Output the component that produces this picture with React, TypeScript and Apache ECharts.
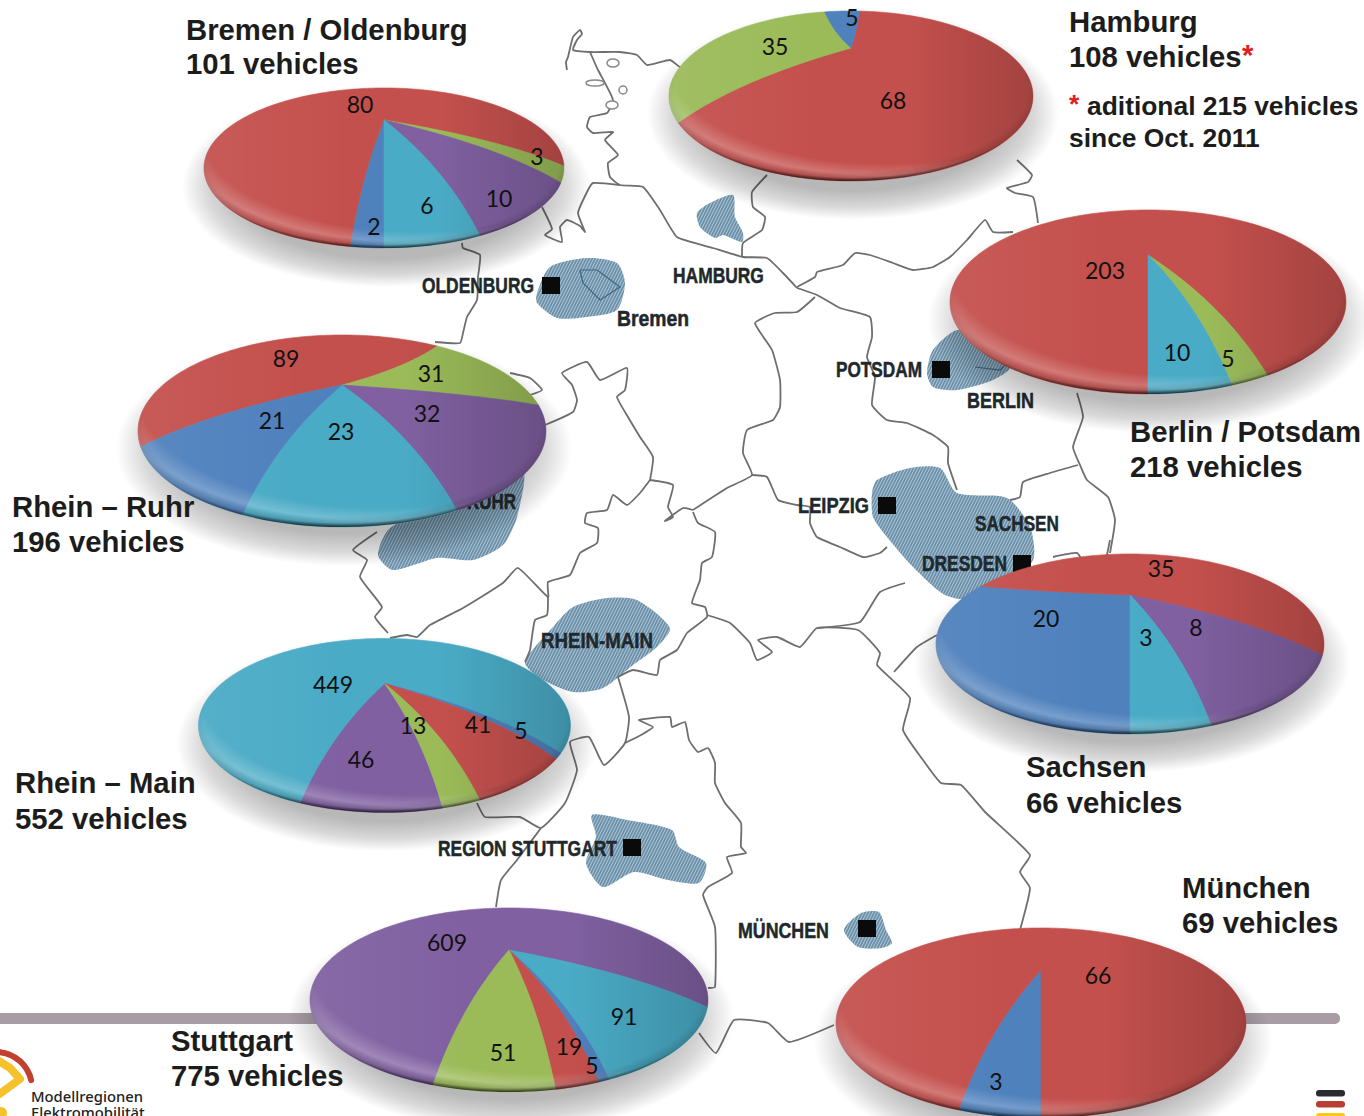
import React, { useEffect, useRef } from "react";
import * as echarts from "echarts";

// Vehicles per model region, slices listed clockwise from each pie's start angle.
const bremenValues = [2, 80, 3, 10, 6];
const bremenSlices = ["blue", "red", "green", "purple", "teal"];
const hamburgValues = [68, 35, 5];
const hamburgSlices = ["red", "green", "blue"];
const berlinValues = [203, 5, 10];
const berlinSlices = ["red", "green", "teal"];
const ruhrValues = [89, 31, 32, 23, 21];
const ruhrSlices = ["red", "green", "purple", "teal", "blue"];
const sachsenValues = [20, 35, 8, 3];
const sachsenSlices = ["blue", "red", "purple", "teal"];
const mainValues = [46, 449, 5, 41, 13];
const mainSlices = ["purple", "teal", "blue", "red", "green"];
const stuttgartValues = [609, 91, 5, 19, 51];
const stuttgartSlices = ["purple", "teal", "blue", "red", "green"];
const muenchenValues = [3, 66];
const muenchenSlices = ["blue", "red"];

const sliceColors: Record<string, string> = {
  red: "#C4504D",
  green: "#9BBB59",
  blue: "#4F81BD",
  purple: "#8060A1",
  teal: "#4AABC6",
};

// Ellipse, tilt and start angle of each pie.
const pieLayouts = [
  { values: bremenValues, slices: bremenSlices, cx: 384, cy: 168, rx: 180, ry: 80, apexDy: -48, start: 180, labels: [[374, 227], [360, 105], [537, 157], [499, 199], [427, 206]] },
  { values: hamburgValues, slices: hamburgSlices, cx: 851, cy: 96, rx: 182, ry: 85, apexDy: -48, start: 4, labels: [[893, 101], [775, 47], [852, 18]] },
  { values: berlinValues, slices: berlinSlices, cx: 1148, cy: 302, rx: 198, ry: 92, apexDy: -47, start: 180, labels: [[1105, 271], [1228, 359], [1177, 353]] },
  { values: ruhrValues, slices: ruhrSlices, cx: 342, cy: 431, rx: 204, ry: 96, apexDy: -46, start: 238, labels: [[286, 359], [431, 374], [427, 414], [341, 432], [272, 421]] },
  { values: sachsenValues, slices: sachsenSlices, cx: 1130, cy: 644, rx: 194, ry: 90, apexDy: -49, start: 180, labels: [[1046, 619], [1161, 569], [1196, 628], [1146, 638]] },
  { values: mainValues, slices: mainSlices, cx: 384.5, cy: 725.5, rx: 186, ry: 87, apexDy: -42, start: 168, labels: [[361, 760], [333, 685], [521, 731], [478, 725], [413, 726]] },
  { values: stuttgartValues, slices: stuttgartSlices, cx: 509, cy: 1000, rx: 199, ry: 92, apexDy: -50, start: 194.8, labels: [[447, 943], [624, 1017], [592, 1066], [569, 1047], [503, 1053]] },
  { values: muenchenValues, slices: muenchenSlices, cx: 1041, cy: 1023, rx: 205, ry: 95, apexDy: -53, start: 180, labels: [[996, 1082], [1098, 976]] },
];

// Headings beside the pies.
const titleLines = [
  { text: "Bremen / Oldenburg", x: 186, y: 29 },
  { text: "101 vehicles", x: 186, y: 63 },
  { text: "Hamburg", x: 1069, y: 21 },
  { text: "108 vehicles", x: 1069, y: 56 },
  { text: "*", x: 1242, y: 54, color: "#E02020" },
  { text: "*", x: 1069, y: 104, size: 26.4, color: "#E02020" },
  { text: "aditional 215 vehicles", x: 1087, y: 106, size: 26.4 },
  { text: "since Oct. 2011", x: 1069, y: 138, size: 26.4 },
  { text: "Berlin / Potsdam", x: 1130, y: 431 },
  { text: "218 vehicles", x: 1130, y: 466 },
  { text: "Rhein – Ruhr", x: 12, y: 506 },
  { text: "196 vehicles", x: 12, y: 541 },
  { text: "Sachsen", x: 1026, y: 766 },
  { text: "66 vehicles", x: 1026, y: 802 },
  { text: "Rhein – Main", x: 15, y: 782 },
  { text: "552 vehicles", x: 15, y: 818 },
  { text: "München", x: 1182, y: 887 },
  { text: "69 vehicles", x: 1182, y: 922 },
  { text: "Stuttgart", x: 171, y: 1040 },
  { text: "775 vehicles", x: 171, y: 1075 },
];

// City and region names on the map: [text, left, centre y, width].
const mapLabels: [string, number, number, number][] = [
  ["OLDENBURG", 422, 285, 112],
  ["HAMBURG", 673, 275, 91],
  ["Bremen", 617, 318, 72],
  ["POTSDAM", 836, 369, 86],
  ["BERLIN", 967, 400, 67],
  ["LEIPZIG", 798, 505, 71],
  ["SACHSEN", 975, 523, 84],
  ["DRESDEN", 922, 563, 85],
  ["RUHR", 467, 501, 49],
  ["RHEIN-MAIN", 541, 640, 112],
  ["REGION STUTTGART", 438, 848, 179],
  ["MÜNCHEN", 738, 930, 91],
];

const citySquares = [
  [542, 277], [932, 361], [878, 497], [1013, 555], [623, 839], [858, 920],
];

// State borders and coastline.
const borderLines: number[][][] = [
  [[567, 70], [566, 62], [568, 57], [573, 37], [580, 30], [582, 34], [577, 40], [573, 50], [590, 52], [620, 52], [637, 55], [647, 65], [670, 60], [680, 67], [690, 66]],
  [[590, 52], [598, 70], [605, 83], [613, 100], [607, 113], [590, 117], [587, 127], [593, 133], [613, 132], [605, 140], [618, 155], [608, 163], [610, 177], [620, 185], [643, 187], [660, 210], [677, 237], [713, 248], [743, 257], [767, 258], [783, 273], [797, 288]],
  [[620, 185], [593, 183], [587, 192], [578, 213], [585, 232], [580, 226], [567, 220], [560, 227], [562, 242], [545, 235], [552, 229], [542, 207]],
  [[462, 243], [463, 248], [480, 255], [478, 277], [477, 300], [467, 317], [463, 333], [460, 343], [435, 342]],
  [[767, 175], [752, 192], [753, 207], [765, 217], [762, 230], [743, 243], [742, 257]],
  [[797, 288], [817, 295], [840, 308], [870, 317], [872, 337], [867, 357], [875, 377], [872, 405], [887, 420], [907, 423], [933, 435], [948, 447], [948, 463], [957, 490]],
  [[797, 287], [815, 277], [817, 272], [843, 265], [855, 253], [870, 255], [893, 263], [913, 270], [933, 267], [950, 257], [967, 240], [985, 220], [993, 232], [1013, 232]],
  [[1017, 160], [1032, 175], [1028, 182], [1007, 188], [1015, 193], [1033, 197], [1038, 223]],
  [[1077, 393], [1083, 417], [1073, 447], [1080, 465], [1087, 480], [1108, 497], [1115, 520], [1110, 553]],
  [[1078, 465], [1050, 473], [1023, 482], [1020, 497], [1010, 500]],
  [[815, 297], [797, 312], [775, 313], [755, 323], [772, 350], [780, 380], [780, 407], [773, 420], [747, 430], [743, 453], [752, 475], [727, 488], [693, 510]],
  [[752, 475], [767, 477], [778, 500], [797, 505], [810, 507], [810, 523], [817, 537], [840, 547], [863, 557], [880, 553], [887, 547]],
  [[545, 425], [573, 412], [577, 400], [572, 385], [562, 373], [587, 362], [600, 380], [627, 368], [625, 390], [617, 397], [628, 417], [640, 437], [653, 457], [650, 480]],
  [[510, 373], [530, 378], [542, 390], [530, 395]],
  [[650, 480], [673, 485], [668, 507], [673, 517], [665, 521], [683, 508], [693, 510]],
  [[650, 480], [640, 493], [627, 505], [613, 495], [607, 510], [587, 513], [585, 523], [598, 528], [597, 543], [580, 553], [570, 575], [548, 582], [548, 597], [518, 568], [503, 583], [463, 608], [430, 625], [417, 637], [407, 635], [390, 638]],
  [[548, 597], [547, 615], [535, 620], [530, 650], [525, 662]],
  [[377, 532], [353, 550], [367, 560], [360, 577], [382, 607], [375, 617], [388, 633]],
  [[693, 512], [698, 523], [715, 532], [712, 557], [702, 563], [700, 580], [692, 603], [705, 607], [707, 617], [687, 633], [677, 650], [660, 660], [657, 675], [633, 670], [618, 677]],
  [[707, 615], [730, 623], [750, 643], [757, 660], [772, 652], [758, 640], [777, 637], [800, 647], [817, 628], [858, 630], [880, 653], [877, 665], [910, 698], [903, 730], [923, 760], [941, 783], [961, 785], [985, 812], [1030, 855], [1020, 872], [1030, 888], [1020, 930]],
  [[817, 628], [860, 622], [880, 592], [905, 583]],
  [[894, 672], [917, 647], [937, 635]],
  [[618, 677], [629, 717], [625, 743], [604, 765], [589, 737], [570, 742], [577, 770], [565, 803], [541, 828], [520, 817], [485, 817], [477, 803]],
  [[541, 828], [517, 860], [501, 880], [496, 907]],
  [[625, 743], [641, 735], [653, 727], [639, 720], [670, 717], [672, 727], [685, 722], [689, 740], [698, 752], [708, 748], [715, 763], [715, 783], [725, 803], [741, 823], [741, 847], [746, 853], [727, 857], [732, 873], [708, 887], [703, 895], [715, 927], [715, 987], [708, 988]],
  [[699, 1033], [716, 1053], [734, 1020], [768, 1023], [789, 1042], [834, 1025]],
  [[1053, 557], [1077, 553], [1083, 562]],
  [[1110, 540], [1107, 555]],
];

// Hatched model regions.
const regionAreas: number[][][] = [
  [[697, 213], [710, 203], [733, 195], [735, 217], [743, 233], [742, 242], [723, 235], [715, 238], [700, 227]],
  [[537, 293], [550, 267], [587, 258], [617, 263], [625, 283], [617, 310], [587, 317], [557, 318], [537, 303]],
  [[927, 373], [933, 350], [957, 330], [977, 340], [1010, 367], [993, 380], [957, 390], [933, 387]],
  [[872, 493], [877, 480], [910, 468], [940, 468], [957, 493], [1007, 498], [1030, 527], [1033, 560], [1000, 590], [975, 600], [945, 595], [913, 567], [887, 537], [873, 517]],
  [[378, 555], [390, 528], [440, 505], [522, 470], [517, 517], [503, 545], [473, 560], [437, 558], [393, 570]],
  [[525, 662], [553, 627], [573, 607], [607, 598], [637, 600], [670, 628], [657, 647], [633, 665], [603, 688], [573, 692], [540, 678]],
  [[592, 815], [627, 820], [672, 830], [679, 847], [706, 863], [699, 883], [668, 880], [634, 872], [603, 887], [586, 863], [596, 837]],
  [[844, 930], [861, 913], [879, 912], [886, 930], [892, 943], [882, 948], [858, 947]],
];

const regionOutlines: number[][][] = [
  [[580, 270], [597, 270], [620, 287], [600, 300], [583, 283], [580, 270]],
  [[975, 367], [1000, 370], [1007, 363]],
];

const islandRings = [
  [613, 63, 6, 4], [623, 90, 4, 4], [595, 83, 9, 3], [612, 105, 6, 4],
];

const RIM_TILT = -0.4;

// Projects a compass angle on the flat disc onto the tilted ellipse.
function rimPoint(p: (typeof pieLayouts)[number], deg: number): number[] {
  const a = (deg * Math.PI) / 180;
  const x = Math.sin(a);
  const y = -Math.cos(a);
  const d = 1 + RIM_TILT * y;
  const px = (x * Math.sqrt(1 - RIM_TILT * RIM_TILT)) / d;
  const py = (y + RIM_TILT) / d;
  return [p.cx + p.rx * px, p.cy + p.ry * py];
}

// The bevel bends each radius: it runs sideways first and steepens towards the rim.
function radiusCurve(apex: number[], rim: number[]): number[][] {
  const c = [apex[0] + 0.65 * (rim[0] - apex[0]), apex[1] + 0.42 * (rim[1] - apex[1])];
  const pts: number[][] = [];
  for (let i = 0; i <= 16; i++) {
    const t = i / 16;
    const u = 1 - t;
    pts.push([
      u * u * apex[0] + 2 * u * t * c[0] + t * t * rim[0],
      u * u * apex[1] + 2 * u * t * c[1] + t * t * rim[1],
    ]);
  }
  return pts;
}

function wedgePoints(p: (typeof pieLayouts)[number], from: number, to: number): number[][] {
  const apex = [p.cx, p.cy + p.apexDy];
  const pts = radiusCurve(apex, rimPoint(p, from));
  const steps = Math.max(2, Math.ceil((to - from) / 1.5));
  for (let i = 1; i < steps; i++) pts.push(rimPoint(p, from + ((to - from) * i) / steps));
  return pts.concat(radiusCurve(apex, rimPoint(p, to)).reverse());
}

function pieSeries(p: (typeof pieLayouts)[number]) {
  const total = p.values.reduce((a, b) => a + b, 0);
  const ellipse = { cx: p.cx, cy: p.cy, rx: p.rx, ry: p.ry };
  return {
    type: "custom",
    coordinateSystem: "none",
    silent: true,
    z: 3,
    data: p.values,
    renderItem: (params: any, api: any) => {
      const i = params.dataIndex;
      const before = p.values.slice(0, i).reduce((a, b) => a + b, 0);
      const from = p.start + (before / total) * 360;
      const to = from + (api.value(0) / total) * 360;
      const color = sliceColors[p.slices[i]];
      const children: any[] = [];
      if (i === 0) {
        // Soft cast shadow below the disc.
        children.push({
          type: "ellipse",
          shape: { cx: p.cx + 2, cy: p.cy + 18, rx: p.rx + 24, ry: p.ry + 21 },
          style: {
            fill: new echarts.graphic.RadialGradient(0.5, 0.5, 0.5, [
              { offset: 0, color: "rgba(0,0,0,0.28)" },
              { offset: 0.72, color: "rgba(0,0,0,0.28)" },
              { offset: 0.88, color: "rgba(0,0,0,0.15)" },
              { offset: 1, color: "rgba(0,0,0,0)" },
            ]),
          },
        });
      }
      children.push({
        type: "polygon",
        shape: { points: wedgePoints(p, from, to) },
        style: { fill: color, stroke: color, lineWidth: 0.6 },
      });
      if (i === p.values.length - 1) {
        children.push(
          {
            type: "ellipse",
            shape: ellipse,
            style: {
              fill: new echarts.graphic.LinearGradient(0, 0, 1, 0, [
                { offset: 0, color: "rgba(255,255,255,0.06)" },
                { offset: 0.4, color: "rgba(255,255,255,0)" },
                { offset: 0.65, color: "rgba(0,0,0,0)" },
                { offset: 1, color: "rgba(0,0,0,0.17)" },
              ]),
            },
          },
          {
            type: "ellipse",
            shape: ellipse,
            style: {
              fill: new echarts.graphic.RadialGradient(0.6, 0.3, 0.75, [
                { offset: 0, color: "rgba(255,255,255,0)" },
                { offset: 0.8, color: "rgba(255,255,255,0)" },
                { offset: 0.89, color: "rgba(255,255,255,0.22)" },
                { offset: 0.94, color: "rgba(255,255,255,0.04)" },
                { offset: 0.97, color: "rgba(255,255,255,0)" },
                { offset: 1, color: "rgba(255,255,255,0)" },
              ]),
            },
          },
          {
            type: "ellipse",
            shape: ellipse,
            style: {
              fill: new echarts.graphic.RadialGradient(0.5, 0.46, 0.54, [
                { offset: 0, color: "rgba(0,0,0,0)" },
                { offset: 0.9, color: "rgba(0,0,0,0)" },
                { offset: 0.96, color: "rgba(0,0,0,0.12)" },
                { offset: 1, color: "rgba(0,0,0,0.72)" },
              ]),
            },
          }
        );
      }
      return { type: "group", children };
    },
  };
}

function hatchTile(): HTMLCanvasElement {
  const c = document.createElement("canvas");
  c.width = 3;
  c.height = 6;
  const g = c.getContext("2d")!;
  g.fillStyle = "#6b8fa8";
  g.fillRect(0, 0, 3, 6);
  g.strokeStyle = "#b2cad8";
  g.lineWidth = 1;
  for (const dx of [-3, 0, 3]) {
    g.beginPath();
    g.moveTo(dx, 6);
    g.lineTo(dx + 3, 0);
    g.stroke();
  }
  return c;
}

function measure(text: string, font: string): number {
  const g = document.createElement("canvas").getContext("2d")!;
  g.font = font;
  return g.measureText(text).width;
}

function buildOption() {
  const tile = hatchTile();
  const labelFont = 'bold 22px "Liberation Sans"';
  const elements: any[] = [];

  // The divider runs behind the pies and stops where the map begins.
  [
    { x: -10, width: 340 },
    { x: 1200, width: 140 },
  ].forEach(({ x, width }) =>
    elements.push({
      type: "rect",
      shape: { x, y: 1013, width, height: 11, r: 5 },
      style: { fill: "#A89DA5" },
    })
  );

  regionAreas.forEach((points) =>
    elements.push({
      type: "polygon",
      shape: { points, smooth: 0.25 },
      style: { fill: { image: tile, repeat: "repeat" } },
    })
  );
  borderLines.forEach((points) =>
    elements.push({
      type: "polyline",
      shape: { points, smooth: 0.15 },
      style: { fill: "none", stroke: "#6e6e6e", lineWidth: 1.8, lineJoin: "round" },
    })
  );
  regionOutlines.forEach((points) =>
    elements.push({
      type: "polyline",
      shape: { points },
      style: { fill: "none", stroke: "#3d6783", lineWidth: 1.2 },
    })
  );
  islandRings.forEach(([cx, cy, rx, ry]) =>
    elements.push({
      type: "ellipse",
      shape: { cx, cy, rx, ry },
      style: { fill: "#fff", stroke: "#888", lineWidth: 1.5 },
    })
  );
  citySquares.forEach(([x, y]) =>
    elements.push({
      type: "rect",
      shape: { x, y, width: 18, height: 17 },
      style: { fill: "#0a0a0a" },
    })
  );
  mapLabels.forEach(([text, x, y, width]) =>
    elements.push({
      type: "text",
      x,
      y,
      scaleX: width / measure(text, labelFont),
      style: {
        text,
        x: 0,
        y: 0,
        font: labelFont,
        fill: "#20282c",
        stroke: "#20282c",
        lineWidth: 0.5,
        verticalAlign: "middle",
      },
    })
  );

  // Programme mark, bottom left.
  elements.push(
    {
      type: "arc",
      shape: { cx: -4, cy: 1088, r: 36, startAngle: -1.45, endAngle: -0.22 },
      style: { fill: "none", stroke: "#C2402F", lineWidth: 6, lineCap: "round" },
    },
    {
      type: "polyline",
      shape: { points: [[-6, 1058], [10, 1068], [20, 1079], [-6, 1098]] },
      style: { fill: "none", stroke: "#F6C22B", lineWidth: 8, lineCap: "round", lineJoin: "round" },
    },
    {
      type: "circle",
      shape: { cx: 1, cy: 1113, r: 6 },
      style: { fill: "#F6C22B" },
    },
    {
      type: "text",
      x: 31,
      y: 1096,
      style: { text: "Modellregionen", x: 0, y: 0, font: '500 14.8px "Noto Sans"', fill: "#222", verticalAlign: "middle" },
    },
    {
      type: "text",
      x: 31,
      y: 1112,
      style: { text: "Elektromobilität", x: 0, y: 0, font: '500 14.8px "Noto Sans"', fill: "#222", verticalAlign: "middle" },
    }
  );

  // Stripes in the national colours, bottom right.
  [
    [1090, "#2c2c2e"],
    [1101, "#B73F35"],
    [1113, "#FFC90E"],
  ].forEach(([y, fill]) =>
    elements.push({
      type: "rect",
      shape: { x: 1316, y: y as number, width: 29, height: 6.5, r: 3 },
      style: { fill: fill as string },
    })
  );

  const sliceLabels = pieLayouts.flatMap((p) =>
    p.values.map((v, i) => ({ text: String(v), x: p.labels[i][0], y: p.labels[i][1] - 1 }))
  );

  return {
    animation: false,
    backgroundColor: "#ffffff",
    graphic: { elements },
    series: [
      ...pieLayouts.map(pieSeries),
      {
        type: "custom",
        coordinateSystem: "none",
        silent: true,
        z: 5,
        data: sliceLabels.map((l) => l.text),
        renderItem: (params: any) => {
          const l = sliceLabels[params.dataIndex];
          return {
            type: "text",
            x: l.x,
            y: l.y,
            style: {
              text: l.text,
              x: 0,
              y: 0,
              font: "23px Lato",
              fill: "#111",
              align: "center",
              verticalAlign: "middle",
            },
          };
        },
      },
      {
        type: "custom",
        coordinateSystem: "none",
        silent: true,
        z: 6,
        data: titleLines.map((l) => l.text),
        renderItem: (params: any) => {
          const l: any = titleLines[params.dataIndex];
          return {
            type: "text",
            x: l.x,
            y: l.y,
            style: {
              text: l.text,
              x: 0,
              y: 0,
              font: `bold ${l.size ?? 29.3}px "Liberation Sans"`,
              fill: l.color ?? "#1c1c1c",
              verticalAlign: "middle",
            },
          };
        },
      },
    ],
  };
}

export default function App() {
  const ref = useRef<HTMLDivElement>(null);
  useEffect(() => {
    document.body.style.margin = "0";
    const chart = echarts.init(ref.current!, undefined, { renderer: "svg" });
    chart.setOption(buildOption() as any);
    return () => chart.dispose();
  }, []);
  return <div ref={ref} style={{ width: 1364, height: 1116, overflow: "hidden" }} />;
}
